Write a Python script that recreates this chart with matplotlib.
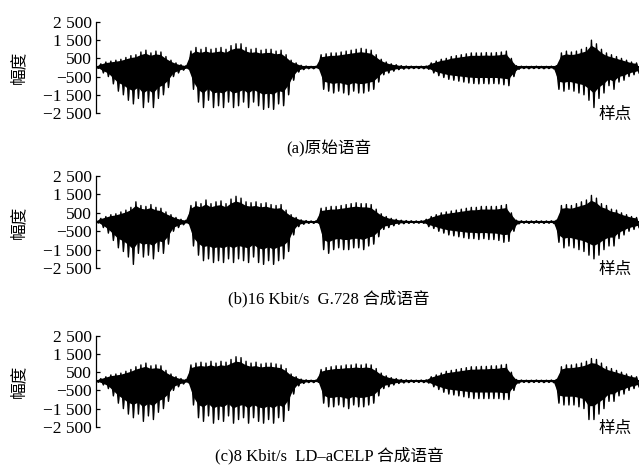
import numpy as np
import matplotlib
matplotlib.use('Agg')
import matplotlib.pyplot as plt

# Пики сигнала (чередуются +/-)
peaks_a = [
    40, -50,
    # сегмент 1
    200, -300, 300, -500, 350, -900, 400, -1300, 450, -1500, 550, -1800, 650, -2000,
    700, -1700, 850, -2200, 950, -1900, 800, -2200, 900, -1700, 850, -1500, 600, -1100,
    400, -500, 250, -300, 150, -150, 100, -80,
    # сегмент 2
    900, -1200, 1100, -1900, 1000, -2200, 1100, -1800, 1000, -2200, 1050, -2100, 1100, -2200,
    1000, -1900, 1200, -2200, 1300, -2100, 1300, -1900, 1100, -2200, 1000, -1900, 1050, -2100,
    950, -2300, 1000, -2200, 1000, -2300, 900, -2000, 950, -2100, 700, -1500, 400, -700,
    250, -250, 120, -120, 80, -70, 60, -70, 70, -60,
    # сегмент 3
    700, -1200, 750, -1300, 800, -1400, 800, -1300, 850, -1400, 900, -1500, 950, -1300,
    1000, -1400, 1050, -1400, 1000, -1300, 950, -1200, 700, -800, 450, -400, 300, -300,
    200, -200, 150,
    -120, 100, -90, 80, -70, 70, -60, 60, -60, 70, -70, 80, -100,
    # сегмент 4
    250, -300, 350, -450, 450, -550, 500, -650, 600, -700, 650, -750, 700, -800, 750, -850,
    800, -880, 800, -900, 800, -880, 820, -900, 800, -880, 820, -900, 850, -950, 900, -1000,
    500, -500,
    100, -100, 70, -60, 60, -70, 60, -60, 70, -60, 60, -70, 60, -60, 70, -80, 100,
    # сегмент 5
    -1200, 800, -1300, 900, -1200, 850, -1300, 900, -1400, 1000, -1500, 1100, -1800, 1500,
    -2200, 1300, -1700, 1000, -1400, 800, -1000, 700, -1200, 600, -800, 500, -700, 400,
    -500, 300, -400, 250, -300,
]

peaks_b = [
    40, -50,
    200, -300, 300, -600, 400, -1000, 450, -1400, 550, -1600, 650, -1900, 800, -2300,
    1100, -1700, 900, -1900, 850, -1800, 950, -2000, 800, -1600, 750, -1700, 550, -1200,
    400, -500, 250, -300, 150, -150, 100, -80,
    900, -1300, 1100, -1800, 1000, -2100, 1200, -2000, 1000, -2200, 1100, -2100, 1150, -2200,
    1000, -2000, 1250, -2200, 1400, -2000, 1300, -2100, 1100, -2200, 1050, -1900, 1100, -2200,
    1000, -2300, 1050, -2100, 950, -2300, 900, -2100, 950, -2000, 650, -1600, 400, -700,
    250, -250, 120, -120, 80, -70, 60, -70, 70, -60,
    750, -1500, 800, -1700, 850, -1500, 850, -1400, 900, -1500, 950, -1500, 1000, -1400,
    1050, -1400, 1000, -1500, 1000, -1300, 950, -1200, 700, -800, 450, -400, 300, -300,
    200, -200, 150,
    -120, 100, -90, 80, -70, 70, -60, 60, -60, 70, -70, 150, -250,
    300, -350, 400, -500, 500, -600, 550, -700, 600, -750, 650, -800, 700, -850, 750, -900,
    800, -900, 800, -950, 850, -900, 850, -950, 850, -950, 850, -1000, 900, -1100, 950, -1050,
    500, -500,
    100, -100, 70, -60, 60, -70, 60, -60, 70, -60, 60, -70, 60, -60, 70, -80, 100,
    -1100, 900, -1400, 950, -1300, 900, -1400, 1000, -1500, 1100, -1600, 1200, -1800, 1450,
    -2000, 1300, -1800, 1000, -1500, 900, -1300, 700, -1300, 650, -900, 500, -700, 400,
    -500, 300, -400, 250, -300,
]

peaks_c = [
    40, -50,
    150, -200, 250, -400, 350, -800, 400, -1200, 450, -1500, 550, -1800, 650, -2000,
    800, -1800, 900, -2200, 1000, -1900, 850, -2100, 900, -1700, 850, -1500, 600, -1100,
    400, -500, 250, -300, 150, -150, 100, -80,
    900, -1300, 1000, -2000, 1050, -2200, 1000, -1900, 1100, -2300, 1000, -2100, 1100, -2200,
    1050, -1900, 1200, -2300, 1350, -2100, 1300, -2000, 1100, -2300, 1000, -2000, 1050, -2200,
    950, -2300, 1000, -2100, 1000, -2300, 950, -2000, 900, -2200, 700, -1600, 400, -700,
    250, -250, 120, -120, 80, -70, 60, -70, 70, -60,
    650, -1200, 750, -1400, 800, -1400, 850, -1300, 850, -1400, 900, -1500, 900, -1300,
    950, -1400, 900, -1400, 950, -1300, 900, -1200, 700, -800, 450, -400, 300, -300,
    200, -200, 150,
    -120, 100, -90, 80, -70, 70, -60, 60, -60, 70, -70, 80, -100,
    250, -300, 350, -450, 450, -600, 550, -700, 600, -750, 650, -800, 700, -850, 750, -900,
    800, -950, 800, -950, 820, -950, 820, -950, 850, -950, 850, -950, 900, -1000, 930, -1000,
    500, -500,
    100, -100, 70, -60, 60, -70, 60, -60, 70, -60, 60, -70, 60, -60, 70, -80, 100,
    -1200, 800, -1300, 900, -1300, 900, -1300, 950, -1400, 1000, -1500, 1100, -2100, 1250,
    -2100, 1200, -1800, 1000, -1500, 800, -1100, 700, -1100, 600, -800, 500, -700, 400,
    -500, 300, -400, 250, -300,
]

yticks = [-2500, -1500, -500, 500, 1500, 2500]
ytick_labels = ['\u22122 500', '\u22121 500', '\u2212500', '500', '1 500', '2 500']
captions = ['(a)原始语音', '(b)16 Kbit/s  G.728 合成语音', '(c)8 Kbit/s  LD\u2013aCELP 合成语音']

serif = ['Liberation Serif', 'Noto Sans CJK SC']
cjk = ['Noto Sans CJK SC', 'DejaVu Sans']

fig = plt.figure(figsize=(6.39, 4.67), dpi=100)

# положение панелей: [низ, высота] в долях фигуры
rows = [(0.758, 0.195), (0.426, 0.197), (0.086, 0.195)]
cap_y = [0.681, 0.360, 0.025]

for peaks, (bot, h), cap, cy in zip([peaks_a, peaks_b, peaks_c], rows, captions, cap_y):
    ax = fig.add_axes([0.150, bot, 0.850, h])
    p = np.array(peaks)
    x = np.arange(len(p))
    up = p > 0
    # плотное ядро сигнала по огибающей + отдельные пики поверх
    core_x = np.r_[x[up], x[~up][::-1]]
    core_y = np.r_[p[up] * 0.8, p[~up][::-1] * 0.65]
    ax.fill(core_x, core_y, color='black', lw=0)
    ax.fill_between(x, p, 0, color='black', lw=0)
    ax.plot(x, p, color='black', lw=1.0)
    ax.axhline(0, color='black', lw=1.5)
    ax.set_xlim(0, len(p) - 1)
    ax.set_ylim(-2500, 2500)
    for s in ['top', 'right', 'bottom']:
        ax.spines[s].set_visible(False)
    ax.spines['left'].set_linewidth(0.9)
    ax.set_xticks([])
    ax.set_yticks(yticks)
    ax.set_yticklabels(ytick_labels, family=serif, fontsize=12.5)
    ax.tick_params(axis='y', direction='in', length=3, width=0.9, pad=3)
    ax.set_ylabel('幅度', family=cjk, fontsize=12, labelpad=2)
    ax.yaxis.set_label_coords(-0.127, 0.5)
    ax.text(0.956, -0.02, '样点', transform=ax.transAxes, family=cjk,
            fontsize=12, ha='center', va='center')
    fig.text(0.515, cy, cap, family=serif, fontsize=12, ha='center', va='center')

fig.savefig('out.png', dpi=100)
